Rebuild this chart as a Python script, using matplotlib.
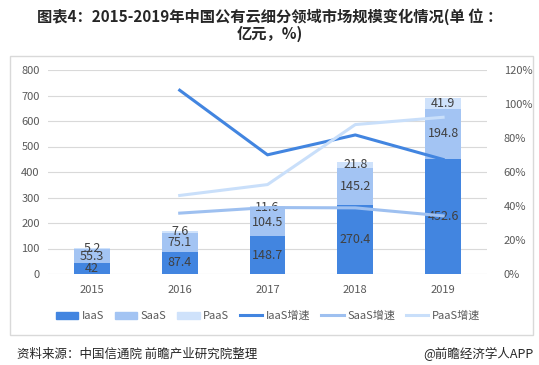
import numpy as np
import matplotlib
matplotlib.use('Agg')
import matplotlib.pyplot as plt
from matplotlib.patches import Rectangle
from matplotlib.lines import Line2D

plt.rcParams['font.family'] = ['Noto Sans CJK SC', 'DejaVu Sans']
plt.rcParams['axes.unicode_minus'] = False

# 数据
years = ['2015', '2016', '2017', '2018', '2019']
iaas = [42, 87.4, 148.7, 270.4, 452.6]
saas = [55.3, 75.1, 104.5, 145.2, 194.8]
paas = [5.2, 7.6, 11.6, 21.8, 41.9]
growth_years = ['2016', '2017', '2018', '2019']
iaas_growth = [108.1, 70.1, 81.8, 67.4]
saas_growth = [35.8, 39.1, 38.9, 34.2]
paas_growth = [46.2, 52.6, 87.9, 92.2]

c_iaas = '#4285e0'
c_saas = '#a3c4f3'
c_paas = '#cfe2fb'
c_text = '#404040'
c_tick = '#595959'

fig = plt.figure(figsize=(5.39, 3.65), dpi=100)

# 外框
fig.patches.append(Rectangle((10 / 539, 1 - 335 / 365), 523 / 539, 279 / 365,
                             transform=fig.transFigure, fill=False,
                             edgecolor='#d9d9d9', linewidth=1))

ax = fig.add_axes([48 / 539, 1 - 274 / 365, 439 / 539, 204 / 365])
x = np.arange(len(years))
w = 0.41

ax.bar(x, iaas, w, color=c_iaas, zorder=2)
ax.bar(x, saas, w, bottom=iaas, color=c_saas, zorder=2)
bottom2 = [a + b for a, b in zip(iaas, saas)]
ax.bar(x, paas, w, bottom=bottom2, color=c_paas, zorder=2)

for i in range(len(years)):
    ax.text(x[i], iaas[i] / 2, f'{iaas[i]:g}', ha='center', va='center',
            fontsize=9, color=c_text, zorder=5)
    ax.text(x[i], iaas[i] + saas[i] / 2, f'{saas[i]:g}', ha='center', va='center',
            fontsize=9, color=c_text, zorder=5)
    ax.text(x[i], bottom2[i] + paas[i] / 2 + 2, f'{paas[i]:g}', ha='center', va='center',
            fontsize=9, color=c_text, zorder=5)

ax.set_ylim(0, 800)
ax.set_yticks(range(0, 801, 100))
ax.set_xlim(-0.5, len(years) - 0.5)
ax.set_xticks(x)
ax.set_xticklabels(years)
ax.grid(axis='y', color='#d9d9d9', linewidth=0.8, zorder=0)
for s in ax.spines.values():
    s.set_visible(False)
ax.tick_params(length=0, labelsize=8, colors=c_tick, pad=6)
ax.tick_params(axis='x', pad=8)

ax2 = ax.twinx()
gx = [years.index(y) for y in growth_years]
ax2.plot(gx, iaas_growth, color=c_iaas, linewidth=2.2, zorder=3)
ax2.plot(gx, saas_growth, color='#9ec0f0', linewidth=2.2, zorder=3)
ax2.plot(gx, paas_growth, color='#c9dffa', linewidth=2.2, zorder=3)
ax2.set_ylim(0, 120)
ax2.set_yticks(range(0, 121, 20))
ax2.set_yticklabels([f'{v}%' for v in range(0, 121, 20)])
for s in ax2.spines.values():
    s.set_visible(False)
ax2.tick_params(length=0, labelsize=8, colors=c_tick, pad=12)

# 图例
handles = [Rectangle((0, 0), 1, 1, color=c_iaas),
           Rectangle((0, 0), 1, 1, color=c_saas),
           Rectangle((0, 0), 1, 1, color=c_paas),
           Line2D([], [], color=c_iaas, linewidth=2.2),
           Line2D([], [], color='#9ec0f0', linewidth=2.2),
           Line2D([], [], color='#c9dffa', linewidth=2.2)]
labels = ['IaaS', 'SaaS', 'PaaS', 'IaaS增速', 'SaaS增速', 'PaaS增速']
fig.legend(handles, labels, loc='center', bbox_to_anchor=(268 / 539, 1 - 316 / 365),
           ncol=6, frameon=False, fontsize=8, handlelength=2.0, handleheight=0.6,
           columnspacing=1.0, handletextpad=0.3, labelcolor=c_tick)

# 标题
fig.text(0.5, 1 - 17 / 365, '图表4：2015-2019年中国公有云细分领域市场规模变化情况(单 位 ：',
         ha='center', va='center', fontsize=11, fontweight='bold', color='#262626')
fig.text(0.5, 1 - 34 / 365, '亿元，%)', ha='center', va='center',
         fontsize=11, fontweight='bold', color='#262626')

# 来源
fig.text(17 / 539, 1 - 354 / 365, '资料来源：中国信通院 前瞻产业研究院整理',
         ha='left', va='center', fontsize=9, color='#262626')
fig.text(533 / 539, 1 - 354 / 365, '@前瞻经济学人APP',
         ha='right', va='center', fontsize=9, color='#262626')

fig.savefig('out.png', dpi=100)
